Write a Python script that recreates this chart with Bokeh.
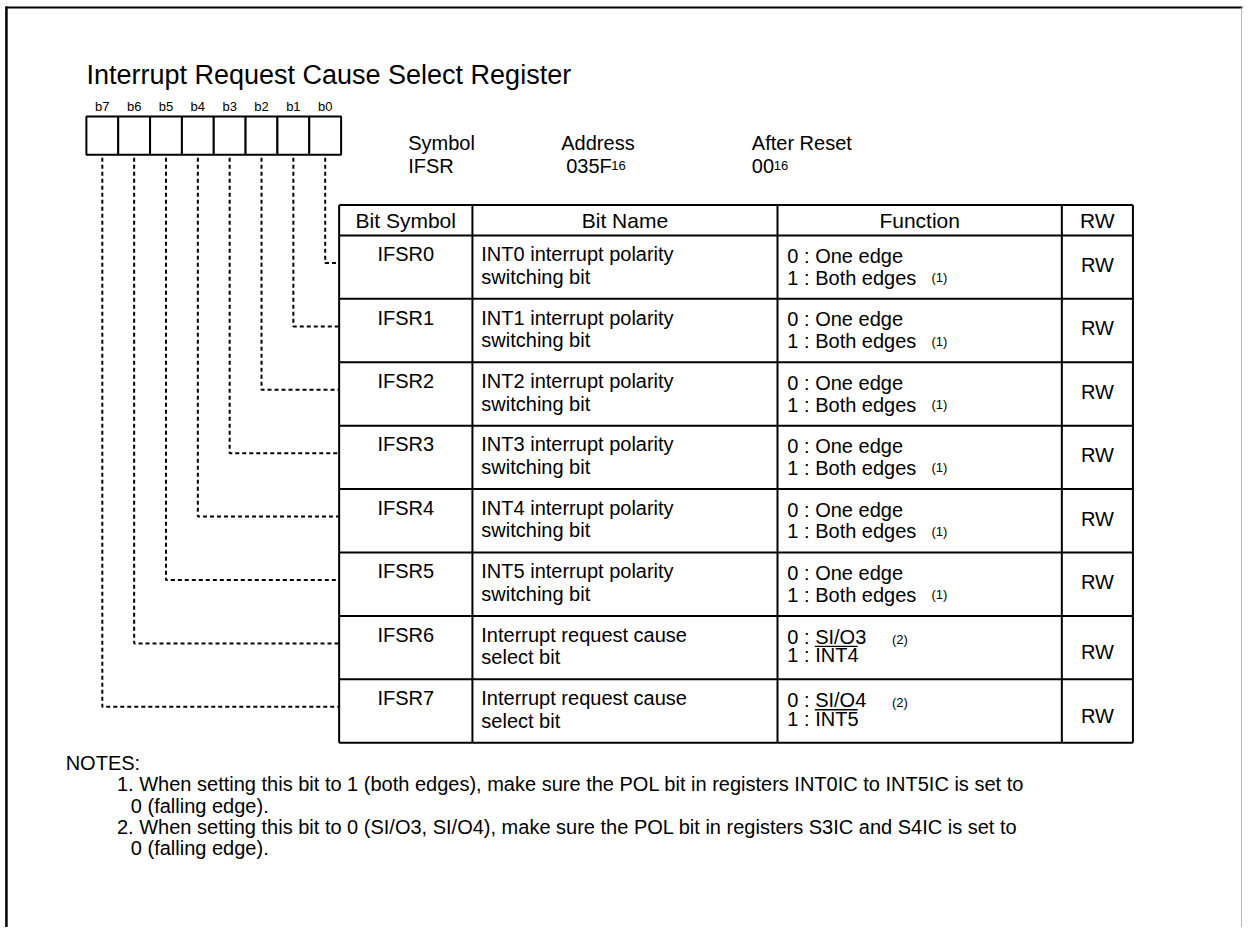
from bokeh.plotting import figure
from bokeh.models import Range1d
from bokeh.core.properties import value
from bokeh.embed import file_html
from bokeh.resources import INLINE

# ---------------- data ----------------
TITLE = "Interrupt Request Cause Select Register"
BIT_LABELS = ["b7", "b6", "b5", "b4", "b3", "b2", "b1", "b0"]
HEAD_LABELS = ["Symbol", "Address", "After Reset"]
HEAD_VALUES = ["IFSR", "035F", "00"]
HEAD_SUBS = ["", "16", "16"]
HEADERS = ["Bit Symbol", "Bit Name", "Function", "RW"]
BIT_SYMBOLS = ["IFSR0", "IFSR1", "IFSR2", "IFSR3", "IFSR4", "IFSR5", "IFSR6", "IFSR7"]
BIT_NAMES_1 = ["INT0 interrupt polarity", "INT1 interrupt polarity", "INT2 interrupt polarity",
               "INT3 interrupt polarity", "INT4 interrupt polarity", "INT5 interrupt polarity",
               "Interrupt request cause", "Interrupt request cause"]
BIT_NAMES_2 = ["switching bit"] * 6 + ["select bit", "select bit"]
FUNC_0 = ["0 : One edge"] * 6 + ["0 : SI/O3", "0 : SI/O4"]
FUNC_1 = ["1 : Both edges"] * 6 + ["1 : INT4", "1 : INT5"]
FUNC_OVERLINE = [""] * 6 + ["INT4", "INT5"]
NOTE_REFS = ["(1)"] * 6 + ["(2)", "(2)"]
RW = ["RW"] * 8
NOTES_TITLE = "NOTES:"
NOTES = [
    ("1. When setting this bit to 1 (both edges), make sure the POL bit in registers INT0IC to INT5IC is set to",
     "0 (falling edge)."),
    ("2. When setting this bit to 0 (SI/O3, SI/O4), make sure the POL bit in registers S3IC and S4IC is set to",
     "0 (falling edge)."),
]

# ---------------- layout ----------------
W, H = 1243, 927            # canvas size (fits the window with the 8px page margin)
RW_, RH_ = 1259, 943        # reference coordinate space
FONT = value("Liberation Sans")

p = figure(width=W, height=H, output_backend="svg", toolbar_location=None,
           x_range=Range1d(0, RW_), y_range=Range1d(RH_, 0),
           min_border=0)
p.axis.visible = False
p.grid.visible = False
p.outline_line_color = None
p.background_fill_color = "white"
p.border_fill_color = "white"


def txt(x, y, s, size, align="left", baseline="middle", color="black"):
    p.text(x=[x], y=[y], text=[s], text_font=FONT, text_font_size=f"{size}px",
           text_align=align, text_baseline=baseline, text_color=color)


# Arial-like advance widths (em) for width estimates
AW = {"0": .556, "1": .556, "2": .556, "3": .556, "4": .556, "5": .556, "6": .556,
      "F": .611, "I": .278, "N": .722, "T": .611, " ": .278, ":": .278}


def width(s, size):
    return sum(AW.get(c, .556) for c in s) * size


# outer frame
p.segment(x0=[6], y0=[6], x1=[6], y1=[RH_], line_color="black", line_width=2.5)
p.segment(x0=[5], y0=[7], x1=[1258], y1=[7], line_color="black", line_width=2)
p.segment(x0=[1257], y0=[7], x1=[1257], y1=[RH_], line_color="#b8b8b8", line_width=1)

# title
txt(87, 76, TITLE, 27, baseline="alphabetic")

# register boxes
BX0, BX1, BY0, BY1 = 87, 345, 118, 157
cw = (BX1 - BX0) / len(BIT_LABELS)
lefts = [BX0 + i * cw for i in range(len(BIT_LABELS))]
p.quad(left=lefts, right=[l + cw for l in lefts], top=[BY0] * 8, bottom=[BY1] * 8,
       fill_color="white", line_color="black", line_width=2)
p.text(x=[l + cw / 2 for l in lefts], y=[108] * 8, text=BIT_LABELS, text_font=FONT,
       text_font_size="13px", text_align="center", text_baseline="middle")

# symbol / address / reset
HX = [413, 568, 761]
HVX = [413, 573, 761]
for lab, val, sub, x, vx in zip(HEAD_LABELS, HEAD_VALUES, HEAD_SUBS, HX, HVX):
    txt(x, 145, lab, 20, baseline="alphabetic")
    txt(vx, 168, val, 20, baseline="alphabetic")
    if sub:
        txt(vx + width(val, 20), 168, sub, 13, baseline="alphabetic")

# table
TX = [343, 478, 787, 1075, 1147]
TY0, TY1 = 208, 239
RH = 64.5
n = len(BIT_SYMBOLS)
TYB = TY1 + n * RH
hys = [TY0, TY1] + [TY1 + (i + 1) * RH for i in range(n)]
p.segment(x0=[TX[0]] * len(hys), y0=hys, x1=[TX[-1]] * len(hys), y1=hys, line_color="black", line_width=2)
p.segment(x0=TX, y0=[TY0] * len(TX), x1=TX, y1=[TYB] * len(TX), line_color="black", line_width=2)

# headers
for i, h in enumerate(HEADERS):
    txt((TX[i] + TX[i + 1]) / 2, (TY0 + TY1) / 2, h, 21, align="center")

FS = 20
for i in range(n):
    top = TY1 + i * RH
    txt((TX[0] + TX[1]) / 2, top + 19, BIT_SYMBOLS[i], FS, align="center")
    txt(TX[1] + 9, top + 19, BIT_NAMES_1[i], FS)
    txt(TX[1] + 9, top + 42, BIT_NAMES_2[i], FS)
    fx = TX[2] + 10
    if FUNC_OVERLINE[i]:
        txt(fx, top + 21, FUNC_0[i], FS)
        txt(fx, top + 40, FUNC_1[i], FS)
        ox0 = fx + width(FUNC_1[i][:-len(FUNC_OVERLINE[i])], FS)
        ox1 = fx + width(FUNC_1[i], FS)
        p.segment(x0=[ox0], y0=[top + 31], x1=[ox1], y1=[top + 31], line_color="black", line_width=1.3)
        txt(903, top + 24, NOTE_REFS[i], 13)
        txt((TX[3] + TX[4]) / 2, top + 37, RW[i], FS, align="center")
    else:
        txt(fx, top + 21, FUNC_0[i], FS)
        txt(fx, top + 43, FUNC_1[i], FS)
        txt(943, top + 43, NOTE_REFS[i], 13)
        txt((TX[3] + TX[4]) / 2, top + 30, RW[i], FS, align="center")

# dashed connectors from bits to rows
for k, lab in enumerate(BIT_LABELS):
    bit = int(lab[1])
    x = BX0 + (k + 0.5) * cw
    yc = TY1 + bit * RH + 28
    p.line(x=[x, x, TX[0]], y=[BY1 + 3, yc, yc], line_color="black", line_width=2, line_dash="4 3")

# notes
NS = 20
NY = TYB + 21
txt(66, NY, NOTES_TITLE, NS)
y = NY
for first, cont in NOTES:
    y += 21.5
    txt(118, y, first, NS)
    y += 21.5
    txt(132, y, cont, NS)

open("out.html", "w").write(file_html(p, INLINE))
